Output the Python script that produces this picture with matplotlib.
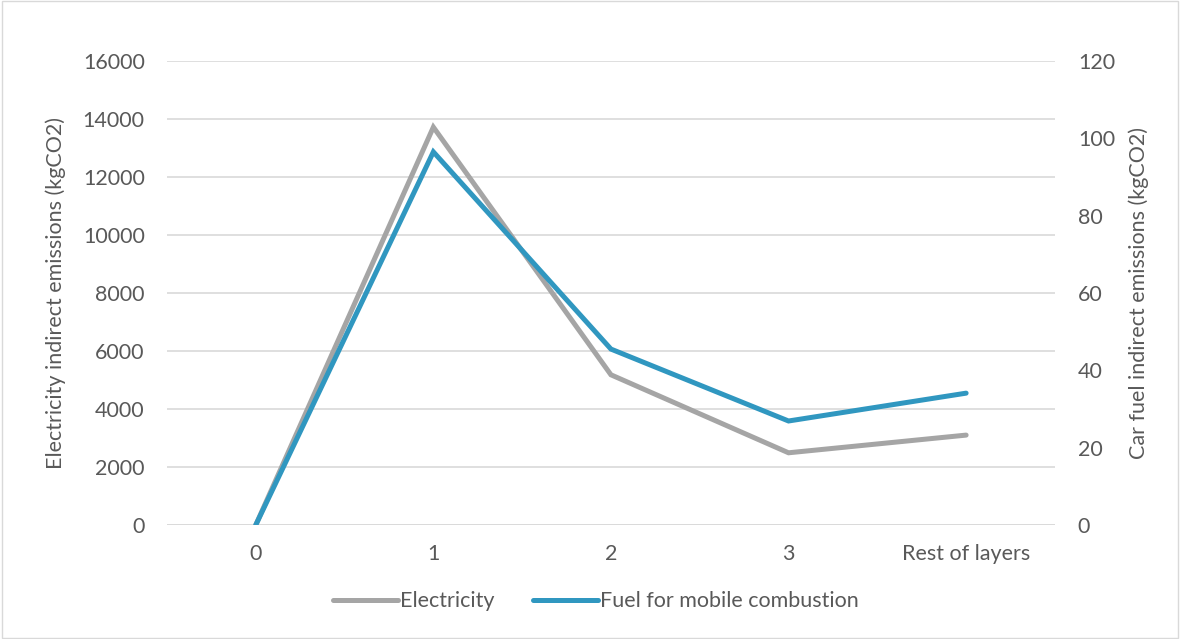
import matplotlib
matplotlib.use("Agg")
import matplotlib.pyplot as plt
from matplotlib.patches import Rectangle

# data
layers = ["0", "1", "2", "3", "Rest of layers"]
electricity = [0, 13720, 5180, 2490, 3100]
fuel = [0, 96.5, 45.5, 26.9, 34.1]

plt.rcParams['font.family'] = ['Lato', 'DejaVu Sans']
txt = '#595959'
grid = '#D9D9D9'
fs = 15.5

fig = plt.figure(figsize=(11.8, 6.39), dpi=100)
ax = fig.add_axes([0.1415, 0.1784, 0.894 - 0.1415, 0.9045 - 0.1784])
ax2 = ax.twinx()

x = list(range(len(layers)))
l1, = ax.plot(x, electricity, color='#A5A5A5', lw=3.6, solid_capstyle='round',
              solid_joinstyle='miter', label='Electricity')
l2, = ax2.plot(x, fuel, color='#3097C0', lw=3.6, solid_capstyle='round',
               solid_joinstyle='miter', label='Fuel for mobile combustion')

ax.set_xlim(-0.5, 4.5)
ax.set_ylim(0, 16000)
ax.set_yticks(range(0, 16001, 2000))
ax2.set_ylim(0, 120)
ax2.set_yticks(range(0, 121, 20))
ax.set_xticks(x)
ax.set_xticklabels(layers)

ax.yaxis.grid(True, color=grid, lw=1.2)
ax.set_axisbelow(True)
for a in (ax, ax2):
    for s in a.spines.values():
        s.set_visible(False)
    a.tick_params(length=0, colors=txt, labelsize=fs)
ax.tick_params(axis='y', pad=16)
ax2.tick_params(axis='y', pad=16.5)
ax.tick_params(axis='x', pad=14)
ax.axhline(0, color=grid, lw=1.2, zorder=0)

ax.set_ylabel('Electricity indirect emissions (kgCO2)', color=txt, fontsize=fs, labelpad=12)
ax2.set_ylabel('Car fuel indirect emissions (kgCO2)', color=txt, fontsize=fs, labelpad=10)

fig.legend(handles=[l1, l2], loc='lower center', bbox_to_anchor=(0.505, 0.013), ncol=2,
           frameon=False, fontsize=fs, labelcolor=txt, handlelength=3.0,
           handletextpad=0.1, columnspacing=1.8)

fig.patches.append(Rectangle((0.002, 0.002), 0.996, 0.996, transform=fig.transFigure,
                             fill=False, edgecolor=grid, lw=1))

fig.savefig('out.png', dpi=100)
